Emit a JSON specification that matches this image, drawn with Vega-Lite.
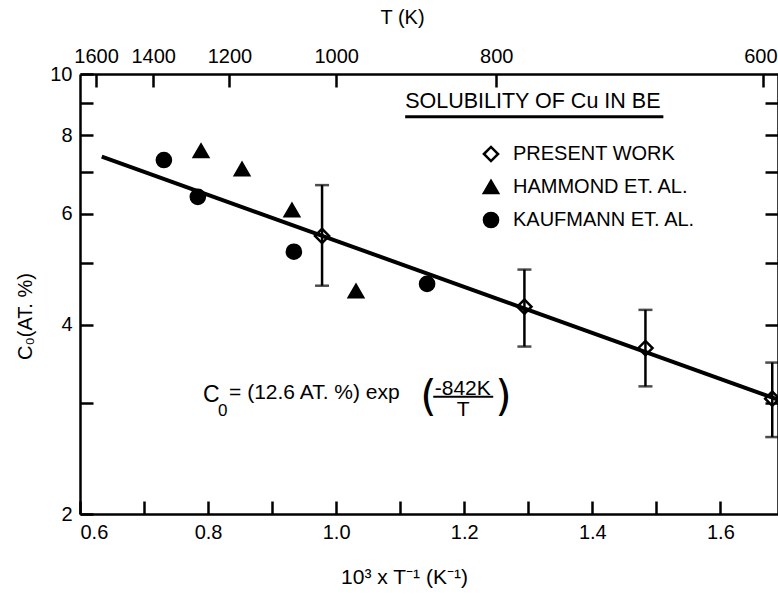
{
  "$schema": "https://vega.github.io/schema/vega-lite/v6.json",
  "width": 698,
  "height": 440,
  "autosize": {"type": "none"},
  "padding": {"left": 80, "top": 74, "right": 0, "bottom": 82},
  "background": "white",
  "datasets": {
    "fit": [{"x": 0.634, "y": 7.39}, {"x": 1.69, "y": 3.04}],
    "points": [
      {"source": "PRESENT WORK", "x": 0.978, "y": 5.53},
      {"source": "PRESENT WORK", "x": 1.294, "y": 4.27},
      {"source": "PRESENT WORK", "x": 1.483, "y": 3.67},
      {"source": "PRESENT WORK", "x": 1.681, "y": 3.05},
      {"source": "HAMMOND ET. AL.", "x": 0.789, "y": 7.55},
      {"source": "HAMMOND ET. AL.", "x": 0.853, "y": 7.06},
      {"source": "HAMMOND ET. AL.", "x": 0.931, "y": 6.08},
      {"source": "HAMMOND ET. AL.", "x": 1.031, "y": 4.52},
      {"source": "KAUFMANN ET. AL.", "x": 0.731, "y": 7.3},
      {"source": "KAUFMANN ET. AL.", "x": 0.784, "y": 6.38},
      {"source": "KAUFMANN ET. AL.", "x": 0.934, "y": 5.22},
      {"source": "KAUFMANN ET. AL.", "x": 1.142, "y": 4.64}
    ],
    "present": [
      {"x": 0.978, "lo": 4.61, "hi": 6.66},
      {"x": 1.294, "lo": 3.69, "hi": 4.89},
      {"x": 1.483, "lo": 3.19, "hi": 4.22},
      {"x": 1.681, "lo": 2.65, "hi": 3.48}
    ],
    "one": [{}]
  },
  "config": {
    "font": "Liberation Sans",
    "view": {"stroke": null},
    "axis": {
      "domainColor": "black",
      "domainWidth": 2.5,
      "tickColor": "black",
      "tickWidth": 2.5,
      "tickSize": -13,
      "labelColor": "black",
      "labelFont": "Liberation Sans",
      "labelFontSize": 20,
      "labelPadding": 21,
      "labelOverlap": false,
      "labelBound": false,
      "labelFlush": false,
      "grid": false,
      "titleColor": "black",
      "titleFont": "Liberation Sans",
      "titleFontWeight": "normal",
      "titleFontSize": 20
    },
    "legend": {
      "orient": "none", "legendX": 401, "legendY": 70, "title": null,
      "labelFontSize": 20, "labelFont": "Liberation Sans", "labelColor": "black", "symbolSize": 200,
      "symbolStrokeWidth": 2.5, "labelOffset": 12, "rowPadding": 8, "padding": 0, "labelLimit": 400
    },
    "text": {"color": "black", "font": "Liberation Sans"}
  },
  "resolve": {"axis": {"x": "independent", "y": "independent"}},
  "layer": [
    {
      "data": {"name": "points"},
      "mark": {"type": "point", "size": 200, "strokeWidth": 2.5, "opacity": 1},
      "encoding": {
        "x": {
          "field": "x", "type": "quantitative",
          "scale": {"domain": [0.6, 1.69], "nice": false, "zero": false},
          "axis": {
            "orient": "top",
            "values": [0.625, 0.7142857, 0.8333333, 1, 1.25, 1.6666667],
            "labelExpr": "format(round(1000 / datum.value), 'd')",
            "labelAlign": {"condition": {"test": "datum.value > 1.6", "value": "right"}, "value": "center"},
            "labelOffset": {"condition": {"test": "datum.value > 1.6", "value": 14}, "value": 0},
            "title": "T (K)",
            "titleX": 322,
            "titleY": -57,
            "titleBaseline": "middle"
          }
        },
        "y": {
          "field": "y", "type": "quantitative",
          "scale": {"type": "log", "domain": [2, 10], "nice": false},
          "axis": {"orient": "right", "values": [3, 4, 5, 6, 7, 8, 9], "labels": false, "title": null}
        },
        "shape": {
          "field": "source", "type": "nominal",
          "scale": {
            "domain": ["PRESENT WORK", "HAMMOND ET. AL.", "KAUFMANN ET. AL."],
            "range": ["diamond", "M-1,0.866L0,-0.866L1,0.866Z", "circle"]
          }
        },
        "fill": {
          "field": "source", "type": "nominal",
          "scale": {
            "domain": ["PRESENT WORK", "HAMMOND ET. AL.", "KAUFMANN ET. AL."],
            "range": ["white", "black", "black"]
          }
        },
        "stroke": {
          "field": "source", "type": "nominal",
          "scale": {
            "domain": ["PRESENT WORK", "HAMMOND ET. AL.", "KAUFMANN ET. AL."],
            "range": ["black", "black", "black"]
          }
        }
      }
    },
    {
      "data": {"name": "present"},
      "mark": {
        "type": "errorbar",
        "ticks": {"size": 14, "thickness": 2.5, "color": "black"},
        "rule": {"strokeWidth": 2.5, "color": "black"}
      },
      "encoding": {
        "x": {"field": "x", "type": "quantitative", "scale": {"domain": [0.6, 1.69], "nice": false, "zero": false}, "axis": null},
        "y": {"field": "lo", "type": "quantitative", "scale": {"type": "log", "domain": [2, 10], "nice": false}, "axis": null},
        "y2": {"field": "hi"}
      }
    },
    {
      "data": {"name": "fit"},
      "mark": {"type": "line", "color": "black", "strokeWidth": 4},
      "encoding": {
        "x": {
          "field": "x", "type": "quantitative",
          "scale": {"domain": [0.6, 1.69], "nice": false, "zero": false},
          "axis": {
            "orient": "bottom",
            "values": [0.6, 0.7, 0.8, 0.9, 1.0, 1.1, 1.2, 1.3, 1.4, 1.5, 1.6],
            "labelExpr": "round(datum.value * 10) % 2 == 0 ? format(datum.value, '.1f') : ''",
            "labelAlign": {"condition": {"test": "datum.value < 0.65", "value": "left"}, "value": "center"},
            "title": "10³ x T⁻¹ (K⁻¹)",
            "titleFontSize": 21,
            "titleX": 324,
            "titleY": 63,
            "titleBaseline": "middle"
          }
        },
        "y": {
          "field": "y", "type": "quantitative",
          "scale": {"type": "log", "domain": [2, 10], "nice": false},
          "axis": {
            "orient": "left",
            "values": [2, 3, 4, 5, 6, 7, 8, 9, 10],
            "labelExpr": "round(datum.value) % 2 == 0 ? format(datum.value, 'd') : ''",
            "title": "C₀(AT. %)",
            "titleX": -55,
            "titleY": 242,
            "titleAngle": -90,
            "titleAlign": "center",
            "titleBaseline": "middle"
          }
        }
      }
    },
    {
      "data": {"name": "one"},
      "mark": {"type": "text", "text": "SOLUBILITY OF Cu IN BE", "align": "left", "baseline": "middle", "fontSize": 21.5},
      "encoding": {
        "x": {"datum": 1.1078, "type": "quantitative", "scale": {"domain": [0.6, 1.69], "nice": false, "zero": false}, "axis": null},
        "y": {"datum": 9.03, "type": "quantitative", "scale": {"type": "log", "domain": [2, 10], "nice": false}, "axis": null}
      }
    },
    {
      "data": {"name": "one"},
      "mark": {"type": "rule", "color": "black", "strokeWidth": 3},
      "encoding": {
        "x": {"datum": 1.1078, "type": "quantitative", "scale": {"domain": [0.6, 1.69], "nice": false, "zero": false}, "axis": null},
        "x2": {"datum": 1.511},
        "y": {"datum": 8.55, "type": "quantitative", "scale": {"type": "log", "domain": [2, 10], "nice": false}, "axis": null}
      }
    },
    {
      "data": {"name": "one"},
      "mark": {"type": "text", "text": "C", "align": "left", "baseline": "middle", "fontSize": 23},
      "encoding": {
        "x": {"datum": 0.7922, "type": "quantitative", "scale": {"domain": [0.6, 1.69], "nice": false, "zero": false}, "axis": null},
        "y": {"datum": 3.094, "type": "quantitative", "scale": {"type": "log", "domain": [2, 10], "nice": false}, "axis": null}
      }
    },
    {
      "data": {"name": "one"},
      "mark": {"type": "text", "text": "0", "align": "left", "baseline": "middle", "fontSize": 17},
      "encoding": {
        "x": {"datum": 0.8156, "type": "quantitative", "scale": {"domain": [0.6, 1.69], "nice": false, "zero": false}, "axis": null},
        "y": {"datum": 2.918, "type": "quantitative", "scale": {"type": "log", "domain": [2, 10], "nice": false}, "axis": null}
      }
    },
    {
      "data": {"name": "one"},
      "mark": {"type": "text", "text": "= (12.6 AT. %) exp", "align": "left", "baseline": "middle", "fontSize": 21},
      "encoding": {
        "x": {"datum": 0.8328, "type": "quantitative", "scale": {"domain": [0.6, 1.69], "nice": false, "zero": false}, "axis": null},
        "y": {"datum": 3.117, "type": "quantitative", "scale": {"type": "log", "domain": [2, 10], "nice": false}, "axis": null}
      }
    },
    {
      "data": {"name": "one"},
      "mark": {"type": "text", "text": "(", "align": "left", "baseline": "middle", "fontSize": 42, "font": "DejaVu Sans"},
      "encoding": {
        "x": {"datum": 1.1313, "type": "quantitative", "scale": {"domain": [0.6, 1.69], "nice": false, "zero": false}, "axis": null},
        "y": {"datum": 3.06, "type": "quantitative", "scale": {"type": "log", "domain": [2, 10], "nice": false}, "axis": null}
      }
    },
    {
      "data": {"name": "one"},
      "mark": {"type": "text", "text": "-842K", "align": "center", "baseline": "middle", "fontSize": 21},
      "encoding": {
        "x": {"datum": 1.1977, "type": "quantitative", "scale": {"domain": [0.6, 1.69], "nice": false, "zero": false}, "axis": null},
        "y": {"datum": 3.162, "type": "quantitative", "scale": {"type": "log", "domain": [2, 10], "nice": false}, "axis": null}
      }
    },
    {
      "data": {"name": "one"},
      "mark": {"type": "rule", "color": "black", "strokeWidth": 2},
      "encoding": {
        "x": {"datum": 1.1516, "type": "quantitative", "scale": {"domain": [0.6, 1.69], "nice": false, "zero": false}, "axis": null},
        "x2": {"datum": 1.2453},
        "y": {"datum": 3.071, "type": "quantitative", "scale": {"type": "log", "domain": [2, 10], "nice": false}, "axis": null}
      }
    },
    {
      "data": {"name": "one"},
      "mark": {"type": "text", "text": "T", "align": "center", "baseline": "middle", "fontSize": 21},
      "encoding": {
        "x": {"datum": 1.1984, "type": "quantitative", "scale": {"domain": [0.6, 1.69], "nice": false, "zero": false}, "axis": null},
        "y": {"datum": 2.929, "type": "quantitative", "scale": {"type": "log", "domain": [2, 10], "nice": false}, "axis": null}
      }
    },
    {
      "data": {"name": "one"},
      "mark": {"type": "text", "text": ")", "align": "left", "baseline": "middle", "fontSize": 42, "font": "DejaVu Sans"},
      "encoding": {
        "x": {"datum": 1.2484, "type": "quantitative", "scale": {"domain": [0.6, 1.69], "nice": false, "zero": false}, "axis": null},
        "y": {"datum": 3.06, "type": "quantitative", "scale": {"type": "log", "domain": [2, 10], "nice": false}, "axis": null}
      }
    }
  ]
}
